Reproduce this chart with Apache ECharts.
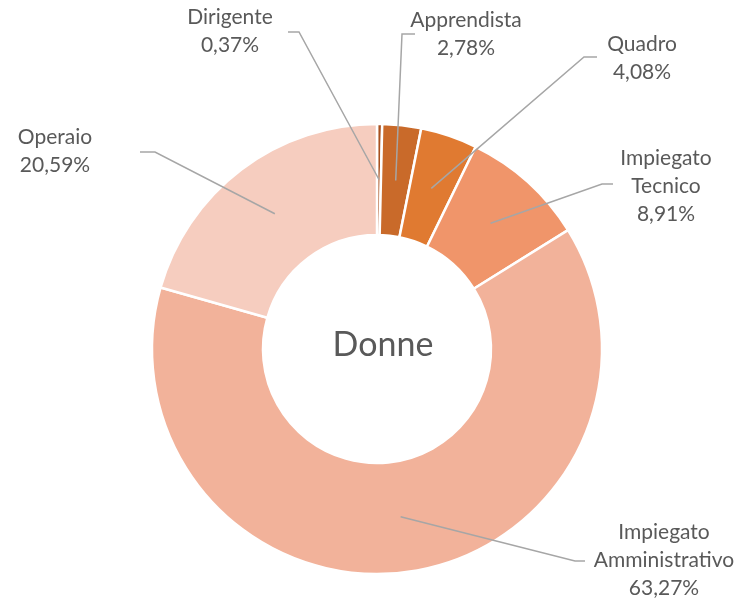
<!DOCTYPE html>
<html>
<head>
<meta charset="utf-8">
<script src="https://cdn.jsdelivr.net/npm/echarts@6/dist/echarts.min.js"></script>
<style>
  html, body { margin: 0; padding: 0; background: #fff; }
  #chart-container { width: 753px; height: 606px; }
</style>
</head>
<body>
<div id="chart-container"></div>
<script>
// categories and shares (%)
const categories = ["Dirigente", "Apprendista", "Quadro", "Impiegato Tecnico", "Impiegato Amministrativo", "Operaio"];
const values = [0.37, 2.78, 4.08, 8.91, 63.27, 20.59];
const colors = ["#a9501f", "#c96a2a", "#e07a31", "#f0956a", "#f2b29a", "#f6cdbf"];

// label placement: [text x, text y, bend x, bend y, end x]
const labelPos = [
  [230, 31, 299, 32, 288],
  [466, 34, 402, 34, 415],
  [642, 58, 584, 57, 597],
  [666, 186, 602, 184, 613],
  [664, 560, 575, 561, 585],
  [55, 151, 155, 152, 140]
];

const cx = 377, cy = 349, rIn = 114, rOut = 225;
const total = values.reduce((a, b) => a + b, 0);

// mid angle anchor inside each slice
const anchors = [];
let acc = 0;
values.forEach((v) => {
  const mid = (acc + v / 2) / total * Math.PI * 2;
  const r = (rIn + rOut) / 2;
  anchors.push([cx + r * Math.sin(mid), cy - r * Math.cos(mid)]);
  acc += v;
});

const dom = document.getElementById("chart-container");
const myChart = echarts.init(dom, null, { renderer: "canvas" });

const pieBase = {
  type: "pie",
  center: [cx, cy],
  radius: [rIn, rOut],
  startAngle: 90,
  clockwise: true,
  avoidLabelOverlap: false
};

const option = {
  animation: false,
  title: {
    text: "Donne",
    left: 378,
    top: 323,
    textAlign: "center",
    textStyle: { fontFamily: "Lato", fontSize: 34, fontWeight: "normal", color: "#595959" }
  },
  series: [
    Object.assign({}, pieBase, {
      z: 2,
      itemStyle: { borderColor: "#fff", borderWidth: 2.5 },
      label: { show: false },
      labelLine: { show: false },
      data: categories.map((name, i) => ({
        name: name,
        value: values[i],
        itemStyle: { color: colors[i] }
      }))
    }),
    // transparent copy on top, only for labels and leader lines
    Object.assign({}, pieBase, {
      z: 5,
      silent: true,
      itemStyle: { color: "rgba(0,0,0,0)", borderWidth: 0 },
      label: {
        show: true,
        position: "outside",
        fontFamily: "Lato",
        fontSize: 21,
        lineHeight: 28,
        color: "#595959",
        formatter: (p) => p.name.replace(" ", "\n") + "\n" + p.value.toFixed(2).replace(".", ",") + "%"
      },
      labelLine: { show: true, showAbove: true, lineStyle: { color: "#a6a6a6", width: 1.5 } },
      labelLayout: (params) => {
        const i = params.dataIndex;
        const lp = labelPos[i];
        return {
          x: lp[0],
          y: lp[1],
          align: "center",
          verticalAlign: "middle",
          labelLinePoints: [anchors[i], [lp[2], lp[3]], [lp[4], lp[3]]]
        };
      },
      data: categories.map((name, i) => ({ name: name, value: values[i] }))
    })
  ]
};

myChart.setOption(option);
</script>
</body>
</html>
